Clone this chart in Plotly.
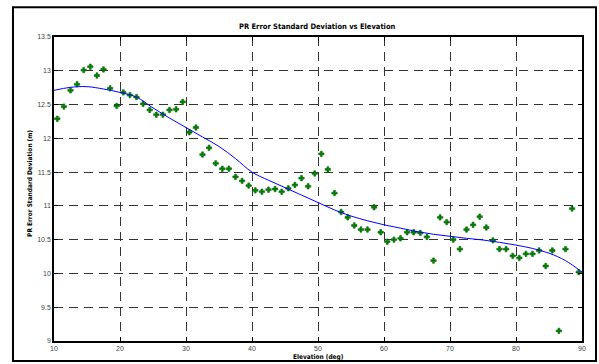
import plotly.graph_objects as go

# Elevation bins (deg) and measured PR error standard deviation (m)
elev = [10.5 + i for i in range(80)]
std_dev = [
    12.29, 12.47, 12.71, 12.80, 13.01, 13.06, 12.93, 13.02, 12.74, 12.48,
    12.68, 12.64, 12.61, 12.51, 12.42, 12.35, 12.35, 12.42, 12.43, 12.54,
    12.09, 12.16, 11.76, 11.86, 11.63, 11.55, 11.55, 11.43, 11.37, 11.30,
    11.23, 11.21, 11.24, 11.25, 11.21, 11.26, 11.31, 11.41, 11.29, 11.48,
    11.77, 11.54, 11.19, 10.91, 10.83, 10.71, 10.65, 10.65, 10.98, 10.61,
    10.47, 10.50, 10.52, 10.61, 10.61, 10.60, 10.54, 10.19, 10.83, 10.76,
    10.50, 10.36, 10.65, 10.72, 10.84, 10.68, 10.49, 10.36, 10.36, 10.26,
    10.23, 10.29, 10.29, 10.34, 10.11, 10.34, 9.15, 10.36, 10.96, 10.02,
]

# Fitted trend curve
fit_x = [10, 12.5, 15, 17.5, 20, 22.5, 25, 27.5, 30, 32.5, 35, 37.5, 40, 42.5,
         45, 47.5, 50, 52.5, 55, 57.5, 60, 62.5, 65, 67.5, 70, 72.5, 75, 77.5,
         80, 82.5, 85, 87.5, 90]
fit_y = [12.71, 12.755, 12.765, 12.73, 12.68, 12.61, 12.45, 12.30, 12.16, 12.02,
         11.88, 11.70, 11.50, 11.38, 11.27, 11.16, 11.05, 10.94, 10.85, 10.78,
         10.72, 10.67, 10.62, 10.58, 10.55, 10.52, 10.495, 10.46, 10.42, 10.37,
         10.30, 10.19, 10.02]

x_ticks = [10, 20, 30, 40, 50, 60, 70, 80, 90]
y_ticks = [9, 9.5, 10, 10.5, 11, 11.5, 12, 12.5, 13, 13.5]

title_text = "PR Error Standard Deviation vs Elevation"
x_title = "Elevation (deg)"
y_title = "PR Error Standard Deviation (m)"

narrow = "Liberation Sans Narrow, DejaVu Sans Condensed, Arial Narrow, sans-serif"

fig = go.Figure()
fig.add_trace(go.Scatter(
    x=elev, y=std_dev, mode="markers",
    marker=dict(symbol="cross", size=4.5, color="#008000",
                line=dict(width=0.6, color="#006400")),
    cliponaxis=False, showlegend=False,
))
fig.add_trace(go.Scatter(
    x=fit_x, y=fit_y, mode="lines", line_shape="spline",
    line=dict(color="#0000ff", width=1), showlegend=False,
))

axis_common = dict(
    showline=True, linecolor="black", linewidth=1.5, mirror="ticks",
    ticks="inside", ticklen=4, tickcolor="black", tickwidth=1,
    showgrid=True, gridcolor="#333333", gridwidth=1, griddash="9px,6px",
    zeroline=False,
    tickfont=dict(family="Liberation Sans, Arial, sans-serif", size=7, color="#444444"),
)

fig.update_xaxes(range=[10, 90], tickvals=x_ticks,
                 ticktext=[str(v) for v in x_ticks], **axis_common)
fig.update_yaxes(range=[9, 13.5], tickvals=y_ticks,
                 ticktext=[("%g" % v) for v in y_ticks], **axis_common)

fig.update_layout(
    width=599, height=364,
    margin=dict(l=54, r=17, t=37, b=21),
    paper_bgcolor="white", plot_bgcolor="white",
    annotations=[
        dict(text="<b>%s</b>" % title_text, xref="paper", yref="paper",
             x=0.499, y=1.033, xanchor="center", yanchor="middle",
             showarrow=False, font=dict(family=narrow, size=7.5, color="black")),
        dict(text="<b>%s</b>" % x_title, xref="paper", yref="paper",
             x=0.5, y=-0.052, xanchor="center", yanchor="middle",
             showarrow=False, font=dict(family=narrow, size=6.5, color="black")),
        dict(text="<b>%s</b>" % y_title, xref="paper", yref="paper",
             x=-0.0455, y=0.52, xanchor="center", yanchor="middle",
             textangle=-90, showarrow=False,
             font=dict(family=narrow, size=6.5, color="black")),
    ],
    shapes=[
        dict(type="rect", xref="paper", yref="paper",
             x0=-0.0777, x1=1.0265, y0=-0.0654, y1=1.098,
             line=dict(color="black", width=2), fillcolor="rgba(0,0,0,0)",
             layer="above"),
    ],
)

fig.write_html("out.html")
